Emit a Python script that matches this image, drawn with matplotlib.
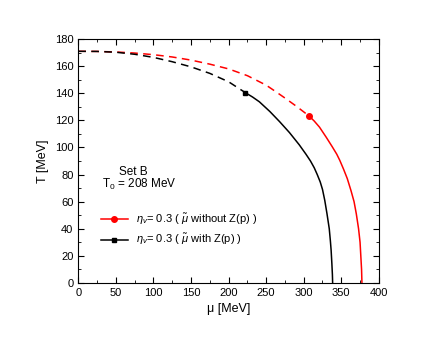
import numpy as np
import matplotlib.pyplot as plt
from matplotlib.ticker import MultipleLocator

plt.rcParams['font.family'] = ['Liberation Sans', 'DejaVu Sans']
plt.rcParams['mathtext.fontset'] = 'custom'
plt.rcParams['mathtext.rm'] = 'Liberation Sans'
plt.rcParams['mathtext.it'] = 'Liberation Sans:italic'

# red curve (without Z(p)): dashed part, then solid part
mu_red_dash = [0, 25, 50, 75, 100, 125, 150, 175, 200, 225, 250, 262, 275, 290, 307]
T_red_dash = [171, 170.9, 170.5, 169.7, 168.5, 166.8, 164.5, 161.5, 158, 153, 146,
              141.5, 136.5, 130.5, 123.3]
mu_red_solid = [307, 314, 321, 330, 338, 344, 348, 353, 358, 363, 367, 370, 373,
                375, 376, 377, 377.5]
T_red_solid = [123.3, 119.5, 115, 107.5, 100.5, 95, 90.5, 84, 77, 68, 60, 51, 40,
               30, 20, 10, 0]

# black curve (with Z(p))
mu_blk_dash = [0, 25, 50, 75, 100, 125, 150, 175, 200, 222.5]
T_blk_dash = [171, 170.9, 170.3, 168.8, 166.5, 163.3, 159.5, 154.7, 148.5, 140.4]
mu_blk_solid = [222.5, 232, 241, 255, 268, 281, 294, 303, 309, 314, 318, 322, 325,
                328, 331, 334, 335.5, 336.5, 337.5, 338.2, 338.5]
T_blk_solid = [140.4, 137.2, 133.7, 126.5, 119, 111, 102, 95, 90, 85, 80, 74.5, 69,
               61, 51, 40, 31, 24, 14, 6, 0]

fig = plt.figure(figsize=(4.4, 3.4), dpi=100)
ax = fig.add_axes([0.178, 0.168, 0.683, 0.717])

dash = (0, (5, 3.5))
ax.plot(mu_red_dash, T_red_dash, color='red', lw=1.1, ls=dash)
ax.plot(mu_red_solid, T_red_solid, color='red', lw=1.1)
ax.plot(mu_red_dash[-1], T_red_dash[-1], 'o', color='red', ms=4)
ax.plot(mu_blk_dash, T_blk_dash, color='black', lw=1.1, ls=dash)
ax.plot(mu_blk_solid, T_blk_solid, color='black', lw=1.1)
ax.plot(mu_blk_dash[-1], T_blk_dash[-1], 's', color='black', ms=3.5)

# legend handles
h1, = ax.plot([], [], color='red', lw=1.1, marker='o', ms=4)
h2, = ax.plot([], [], color='black', lw=1.1, marker='s', ms=3.5)
ax.legend([h1, h2],
          [r'$\eta_v$= 0.3 ( $\tilde{\mu}$ without Z(p) )',
           r'$\eta_v$= 0.3 ( $\tilde{\mu}$ with Z(p) )'],
          loc='upper left', bbox_to_anchor=(0.074, 0.29), frameon=False,
          borderpad=0, borderaxespad=0, handlelength=2.5, handletextpad=0.7,
          labelspacing=0.45, fontsize=8)

ax.text(0.135, 0.456, 'Set B', transform=ax.transAxes, fontsize=8.5, va='center')
ax.text(0.078, 0.402, r'T$_0$ = 208 MeV', transform=ax.transAxes, fontsize=8.5,
        va='center')

ax.set_xlim(0, 400)
ax.set_ylim(0, 180)
ax.xaxis.set_major_locator(MultipleLocator(50))
ax.xaxis.set_minor_locator(MultipleLocator(25))
ax.yaxis.set_major_locator(MultipleLocator(20))
ax.yaxis.set_minor_locator(MultipleLocator(10))
ax.tick_params(which='both', direction='in', top=True, right=True, labelsize=8)
ax.tick_params(which='major', length=4)
ax.tick_params(which='minor', length=2)
ax.set_xlabel('μ [MeV]', fontsize=9, labelpad=4)
ax.set_ylabel('T [MeV]', fontsize=9, labelpad=4)

fig.savefig('out.png', dpi=100)
